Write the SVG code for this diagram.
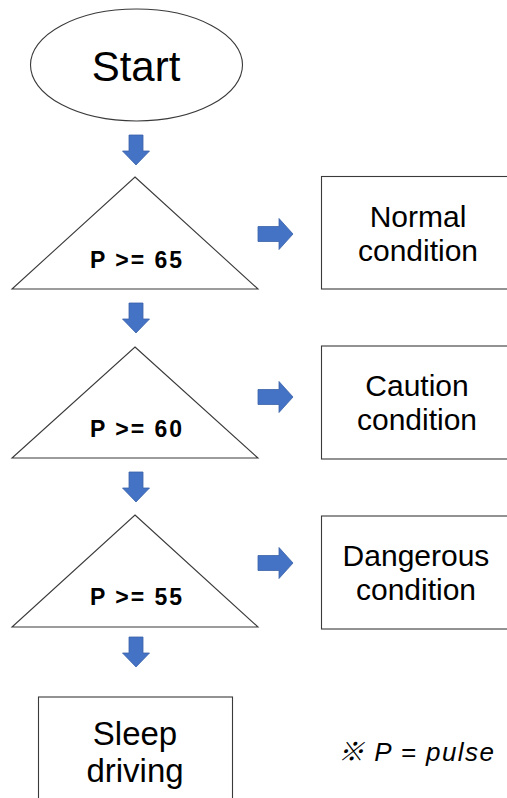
<svg xmlns="http://www.w3.org/2000/svg" xmlns:xlink="http://www.w3.org/1999/xlink" width="507" height="798" viewBox="0 0 507 798">
<style>
.shape{fill:#ffffff;stroke:#3a3a3a;stroke-width:1.1}
.lbl{font-family:"Liberation Sans",Arial,sans-serif;fill:#000;text-anchor:middle}
.big{font-size:30px}
.cond{font-size:23px;font-weight:bold}
.arrow{fill:#4472C4;stroke:#3A62A8;stroke-width:0.8}
</style>
<defs>
<path id="down" d="M -7 0 H 7 V 16 H 13.5 L 0 30 L -13.5 16 H -7 Z"/>
<path id="right" d="M 0 -7.5 H 21 V -15.5 L 35 0 L 21 15.5 V 7.5 H 0 Z"/>
</defs>
<rect width="507" height="798" fill="#ffffff"/>

<g id="start">
<ellipse class="shape" cx="136.5" cy="65" rx="106" ry="56"/>
<text class="lbl" x="136" y="81" font-size="42">Start</text>
</g>

<g id="cond1">
<polygon class="shape" points="135,177 258,289 12,289"/>
<text class="lbl cond" x="136" y="268" textLength="92">P &gt;= 65</text>
</g>
<g id="cond2">
<polygon class="shape" points="135,347 258,458 12,458"/>
<text class="lbl cond" x="136" y="437" textLength="92">P &gt;= 60</text>
</g>
<g id="cond3">
<polygon class="shape" points="135,515 258,627 12,627"/>
<text class="lbl cond" x="136" y="605" textLength="92">P &gt;= 55</text>
</g>

<g id="normal">
<rect class="shape" x="321.5" y="176.5" width="200" height="112.5"/>
<text class="lbl big" x="418" y="227">Normal</text>
<text class="lbl big" x="418" y="261">condition</text>
</g>
<g id="caution">
<rect class="shape" x="321.5" y="346" width="200" height="113"/>
<text class="lbl big" x="417" y="396">Caution</text>
<text class="lbl big" x="417" y="430">condition</text>
</g>
<g id="dangerous">
<rect class="shape" x="321.5" y="516" width="200" height="113"/>
<text class="lbl big" x="416" y="566">Dangerous</text>
<text class="lbl big" x="416" y="600">condition</text>
</g>

<g id="sleep">
<rect class="shape" x="38.5" y="697" width="194" height="120"/>
<text class="lbl" x="135" y="745" font-size="33">Sleep</text>
<text class="lbl" x="135" y="782" font-size="33">driving</text>
</g>

<g id="note">
<text x="338" y="761" font-family="'Liberation Sans','Noto Sans CJK KR',sans-serif" font-size="26" font-style="italic" textLength="156">※ P = pulse</text>
</g>

<g id="connectors">
<use href="#down" xlink:href="#down" class="arrow" x="136" y="135"/>
<use href="#down" xlink:href="#down" class="arrow" x="136" y="303"/>
<use href="#down" xlink:href="#down" class="arrow" x="136" y="472"/>
<use href="#down" xlink:href="#down" class="arrow" x="136" y="637"/>
<use href="#right" xlink:href="#right" class="arrow" x="258" y="234"/>
<use href="#right" xlink:href="#right" class="arrow" x="258" y="397"/>
<use href="#right" xlink:href="#right" class="arrow" x="258" y="563"/>
</g>
</svg>
